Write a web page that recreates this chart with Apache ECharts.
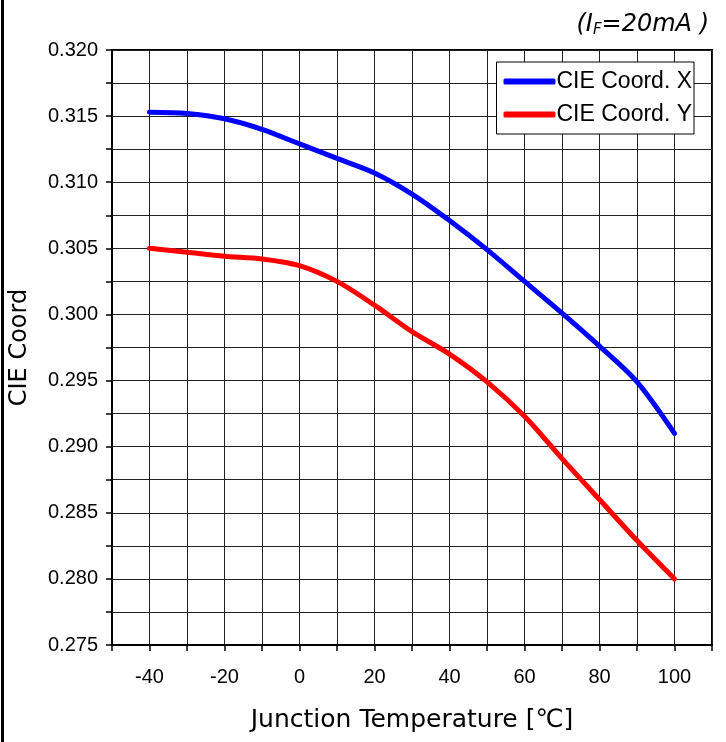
<!DOCTYPE html>
<html>
<head>
<meta charset="utf-8">
<script src="https://cdn.jsdelivr.net/npm/echarts@6/dist/echarts.min.js"></script>
<style>
html,body{margin:0;padding:0;background:#fff;}
#chart{width:726px;height:742px;}
</style>
</head>
<body>
<div id="chart"></div>
<script>
const temps = [-40, -30, -20, -10, 0, 10, 20, 30, 40, 50, 60, 70, 80, 90, 100];
const cieX = [0.3153, 0.3152, 0.3148, 0.3140, 0.3129, 0.3118, 0.3107, 0.3091, 0.3071, 0.3049, 0.3025, 0.3001, 0.2976, 0.2949, 0.2910];
const cieY = [0.3050, 0.3047, 0.3044, 0.3042, 0.3037, 0.3025, 0.3007, 0.2987, 0.2970, 0.2949, 0.2923, 0.2891, 0.2860, 0.2829, 0.2800];
const seriesNames = ['CIE Coord. X', 'CIE Coord. Y'];
const xLabels = [-40, -20, 0, 20, 40, 60, 80, 100];
const yLabels = [0.275, 0.280, 0.285, 0.290, 0.295, 0.300, 0.305, 0.310, 0.315, 0.320];

const narrow = '"Liberation Sans Narrow", "Arial Narrow", "Liberation Sans", sans-serif';
const chart = echarts.init(document.getElementById('chart'));
function near(list, v, eps) { return list.some(t => Math.abs(t - v) < eps); }

chart.setOption({
  animation: false,
  backgroundColor: '#fff',
  title: {
    text: '(I{sub|F}=20mA )',
    right: 12, top: 7,
    textStyle: {
      fontFamily: '"DejaVu Sans", sans-serif', fontStyle: 'italic', fontSize: 24, fontWeight: 'normal', color: '#000',
      rich: { sub: { fontFamily: '"DejaVu Sans", sans-serif', fontStyle: 'italic', fontSize: 15, verticalAlign: 'bottom', padding: [11, 0, 0, 0] } }
    }
  },
  legend: {
    orient: 'vertical',
    right: 32, top: 62,
    padding: [8, 2, 8, 7],
    itemGap: 10,
    itemWidth: 52, itemHeight: 6,
    backgroundColor: '#fff',
    borderColor: '#000', borderWidth: 1,
    data: seriesNames.map(n => ({ name: n, icon: 'roundRect' })),
    textStyle: { fontFamily: narrow, fontSize: 23, color: '#000', padding: [0, 0, 0, -4] }
  },
  grid: { left: 110, right: 14, top: 50, bottom: 97, show: true, borderColor: '#000', borderWidth: 2, backgroundColor: 'transparent' },
  xAxis: {
    type: 'value', min: -50, max: 110, interval: 10,
    name: 'Junction Temperature [℃]', nameLocation: 'middle', nameGap: 63,
    nameTextStyle: { fontFamily: '"DejaVu Sans", sans-serif', fontSize: 25, color: '#000' },
    axisLine: { onZero: false, lineStyle: { color: '#000', width: 2 } },
    axisTick: { show: true, inside: false, length: 6, lineStyle: { color: '#000', width: 1.5 } },
    axisLabel: {
      margin: 22, fontFamily: narrow, fontSize: 20, color: '#000',
      formatter: v => near(xLabels, v, 0.01) ? String(Math.round(v)) : ''
    },
    splitLine: { show: true, lineStyle: { color: '#222', width: 1 } }
  },
  yAxis: {
    type: 'value', min: 0.275, max: 0.320, interval: 0.0025,
    name: 'CIE Coord', nameLocation: 'middle', nameGap: 80, nameRotate: 90,
    nameTextStyle: { fontFamily: '"DejaVu Sans", sans-serif', fontSize: 24, color: '#000' },
    axisLine: { show: true, onZero: false, lineStyle: { color: '#000', width: 2 } },
    axisTick: { show: true, inside: false, length: 6, lineStyle: { color: '#000', width: 1.5 } },
    axisLabel: {
      margin: 14, fontFamily: narrow, fontSize: 20, color: '#000',
      formatter: v => near(yLabels, v, 0.0001) ? v.toFixed(3) : ''
    },
    splitLine: { show: true, lineStyle: { color: '#222', width: 1 } }
  },
  series: [
    { name: seriesNames[0], type: 'line', smooth: 0.3, showSymbol: false, symbol: 'none',
      lineStyle: { color: '#0000ff', width: 5, cap: 'round' }, itemStyle: { color: '#0000ff' },
      data: temps.map((t, i) => [t, cieX[i]]) },
    { name: seriesNames[1], type: 'line', smooth: 0.3, showSymbol: false, symbol: 'none',
      lineStyle: { color: '#ff0000', width: 5, cap: 'round' }, itemStyle: { color: '#ff0000' },
      data: temps.map((t, i) => [t, cieY[i]]) }
  ],
  graphic: [
    { type: 'rect', left: 1, top: 0, shape: { width: 3, height: 742 }, style: { fill: '#000' }, silent: true }
  ]
});
</script>
</body>
</html>
